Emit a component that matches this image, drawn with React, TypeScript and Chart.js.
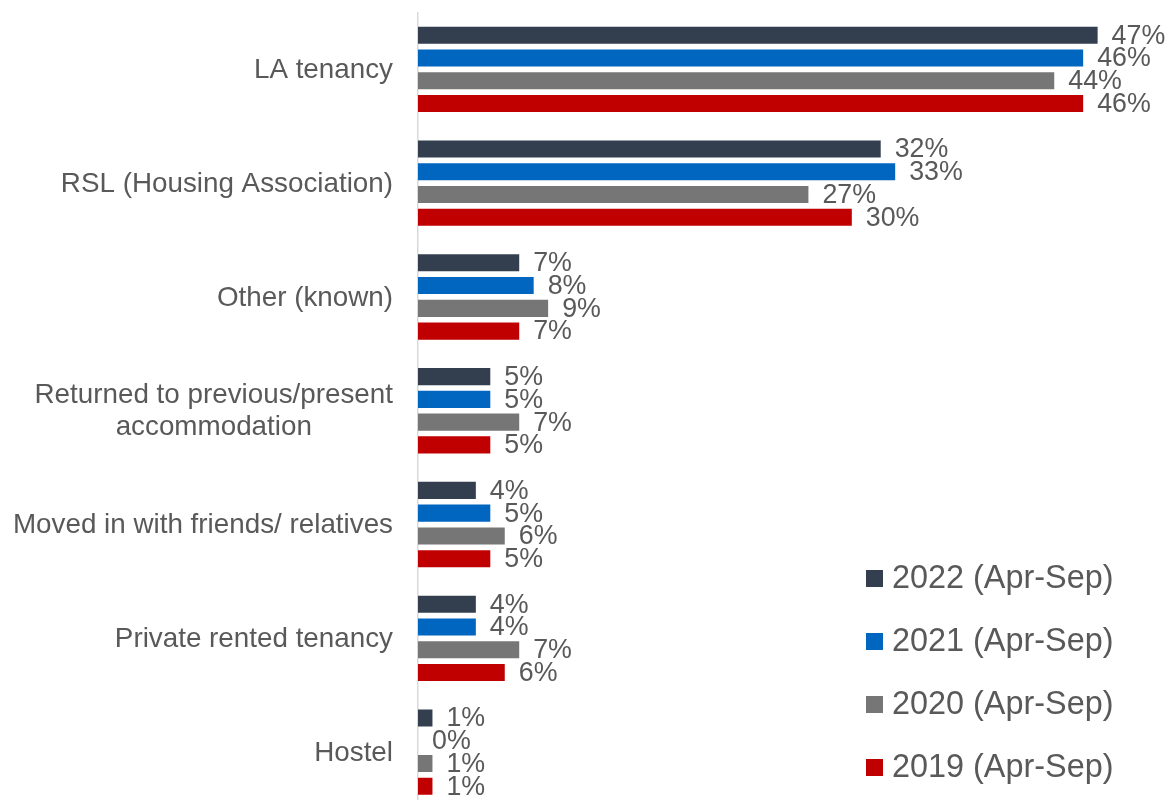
import React, { useEffect, useRef } from "react";
import { Chart, registerables } from "chart.js";

Chart.register(...registerables);

const categories: string[][] = [
  ["LA tenancy"],
  ["RSL (Housing Association)"],
  ["Other (known)"],
  ["Returned to previous/present", "accommodation"],
  ["Moved in with friends/ relatives"],
  ["Private rented tenancy"],
  ["Hostel"],
];

const seriesNames = ["2022 (Apr-Sep)", "2021 (Apr-Sep)", "2020 (Apr-Sep)", "2019 (Apr-Sep)"];
const values2022 = [47, 32, 7, 5, 4, 4, 1];
const values2021 = [46, 33, 8, 5, 5, 4, 0];
const values2020 = [44, 27, 9, 7, 6, 7, 1];
const values2019 = [46, 30, 7, 5, 5, 6, 1];
const seriesColors = ["#333F4F", "#0066C0", "#767676", "#C00000"];

const FONT = "'Liberation Sans', Arial, sans-serif";
const TEXT_COLOR = "#595959";

const labelsPlugin = {
  id: "customLabels",
  afterDatasetsDraw(chart: any) {
    const ctx = chart.ctx;
    const area = chart.chartArea;
    ctx.save();
    // data labels
    ctx.font = `26.8px ${FONT}`;
    ctx.fillStyle = TEXT_COLOR;
    ctx.textAlign = "left";
    ctx.textBaseline = "middle";
    chart.data.datasets.forEach((ds: any, di: number) => {
      const meta = chart.getDatasetMeta(di);
      meta.data.forEach((el: any, i: number) => {
        ctx.fillText(`${ds.data[i]}%`, el.x + 14, el.y + 1);
      });
    });
    // category labels (right-aligned block, centered lines)
    const yScale = chart.scales.y;
    ctx.font = `27.8px ${FONT}`;
    ctx.textAlign = "center";
    const right = area.left - 25;
    const lineH = 32;
    categories.forEach((lines, i) => {
      const yc = yScale.getPixelForValue(i);
      const blockW = Math.max(...lines.map((l) => ctx.measureText(l).width));
      const cx = right - blockW / 2;
      const startY = yc - ((lines.length - 1) * lineH) / 2;
      lines.forEach((l, j) => ctx.fillText(l, cx, startY + j * lineH + 1));
    });
    // legend
    ctx.font = `32.4px ${FONT}`;
    ctx.textAlign = "left";
    const lx = 866;
    const ly0 = 578.5;
    const lstep = 63;
    seriesNames.forEach((name, i) => {
      const y = ly0 + i * lstep;
      ctx.fillStyle = seriesColors[i];
      ctx.fillRect(lx, y - 8.5, 17, 17);
      ctx.fillStyle = TEXT_COLOR;
      ctx.fillText(name, lx + 26, y + 1);
    });
    ctx.restore();
  },
};

export default function App() {
  const canvasRef = useRef<HTMLCanvasElement | null>(null);

  useEffect(() => {
    if (!canvasRef.current) return;
    const allValues = [values2022, values2021, values2020, values2019];
    const chart = new Chart(canvasRef.current, {
      type: "bar",
      data: {
        labels: categories.map((c) => c.join(" ")),
        datasets: allValues.map((vals, i) => ({
          label: seriesNames[i],
          data: vals,
          backgroundColor: seriesColors[i],
          borderWidth: 0,
          categoryPercentage: 0.8,
          barPercentage: 0.75,
        })),
      },
      options: {
        indexAxis: "y",
        responsive: false,
        animation: false,
        maintainAspectRatio: false,
        layout: { padding: { top: 12.5, bottom: 2, left: 0, right: 28 } },
        plugins: {
          legend: { display: false },
          tooltip: { enabled: false },
        },
        scales: {
          x: { display: false, min: 0, max: 50 },
          y: {
            display: true,
            grid: { display: false },
            border: { display: true, color: "#D9D9D9", width: 1.5 },
            ticks: { display: false },
            afterFit: (scale: any) => {
              scale.width = 418;
            },
          },
        },
      },
      plugins: [labelsPlugin],
    } as any);
    return () => chart.destroy();
  }, []);

  return (
    <div
      style={{
        position: "fixed",
        left: 0,
        top: 0,
        width: 1169,
        height: 800,
        overflow: "hidden",
        background: "#fff",
      }}
    >
      <canvas ref={canvasRef} width={1169} height={811} style={{ display: "block" }} />
    </div>
  );
}
